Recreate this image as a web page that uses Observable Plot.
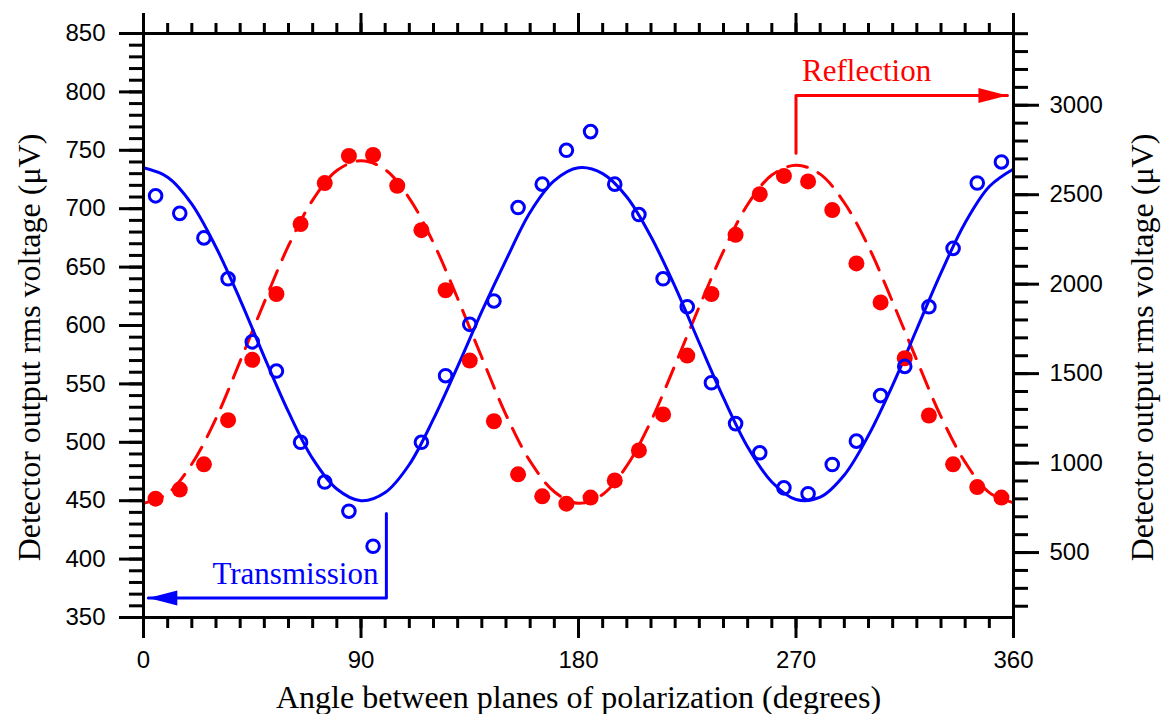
<!DOCTYPE html>
<html><head><meta charset="utf-8">
<script src="https://cdn.jsdelivr.net/npm/d3@7"></script>
<script src="https://cdn.jsdelivr.net/npm/@observablehq/plot@0.6"></script>
<style>body{margin:0;background:#fff}</style>
</head><body><div id="chart"></div>
<script>
// Transmission data (left axis, µV)
const transAngles = [5,15,25,35,45,55,65,75,85,95,115,125,135,145,155,165,175,185,195,205,215,225,235,245,255,265,275,285,295,305,315,325,335,345,355];
const transValues = [711,696,675,640,586,561,500,466,441,411,500,557,601,621,701,721,750,766,721,695,640,616,551,516,491,461,456,481,501,540,565,616,666,722,740];
// Reflection data (right axis, µV)
const reflAngles = [5,15,25,35,45,55,65,75,85,95,105,115,125,135,145,155,165,175,185,195,205,215,225,235,245,255,265,275,285,295,305,315,325,335,345,355];
const reflValues = [801,852,993,1240,1577,1945,2336,2565,2717,2722,2550,2302,1966,1573,1234,937,814,773,807,903,1071,1272,1601,1945,2276,2503,2605,2574,2414,2116,1898,1586,1266,993,866,807];
// Fitted curves
const fitAngles = [0,10,20,30,40,50,60,70,80,90,100,110,120,130,140,150,160,170,180,190,200,210,220,230,240,250,260,270,280,290,300,310,320,330,340,350,360];
const transFit = [735,727,704,667,622,573,526,486,460,450,457,481,520,565,612,656,697,724,735,730,710,676,633,585,538,496,466,451,453,472,506,549,597,645,688,719,734];
const reflFit = [775,830,995,1250,1570,1900,2215,2470,2635,2690,2640,2480,2230,1920,1590,1270,1010,840,775,825,985,1235,1550,1875,2185,2445,2610,2665,2615,2455,2210,1900,1575,1260,1005,835,778];
// Axis ticks
const xMajorTicks = [0,90,180,270,360];
const xMinorTicks = d3.range(0, 361, 10);
const leftMajorTicks = [350,400,450,500,550,600,650,700,750,800,850];
const leftMinorTicks = d3.range(350, 851, 10);
const rightMajorTicks = [500,1000,1500,2000,2500,3000];
const rightMinorTicks = d3.range(200, 3401, 100);
const leftDomain = [350, 850];
const rightDomain = [137, 3401];
// Labels
const xTitle = "Angle between planes of polarization (degrees)";
const yTitle = "Detector output rms voltage (\u03bcV)";
const transLabel = ["Transmission"];
const reflLabel = ["Reflection"];
// Annotation arrows
const transArrowAngles = [100.5, 100.5, 2];
const transArrowValues = [439, 366.8, 366.8];
const transLabelAt = {angle: 97.2, value: 387};
const reflArrowAngles = [270, 270, 357.5];
const reflArrowValues = [2732, 3055, 3055];
const reflLabelAt = {angle: 272.5, value: 3191};

const BLUE = "#0000ff", RED = "#ff0000";
const SERIF = "'Liberation Serif', 'Times New Roman', serif";
const toLeft = r => leftDomain[0] + (r - rightDomain[0]) * (leftDomain[1] - leftDomain[0]) / (rightDomain[1] - rightDomain[0]);
const fromLeft = v => rightDomain[0] + (v - leftDomain[0]) * (rightDomain[1] - rightDomain[0]) / (leftDomain[1] - leftDomain[0]);

const trans = transAngles.map((a, i) => ({a, v: transValues[i]}));
const refl = reflAngles.map((a, i) => ({a, v: toLeft(reflValues[i])}));
const tFit = fitAngles.map((a, i) => ({a, v: transFit[i]}));
const rFit = fitAngles.map((a, i) => ({a, v: toLeft(reflFit[i])}));
const tArrow = transArrowAngles.map((a, i) => ({a, v: transArrowValues[i]}));
const rArrow = reflArrowAngles.map((a, i) => ({a, v: toLeft(reflArrowValues[i])}));
const tLab = transLabel.map(t => ({t, a: transLabelAt.angle, v: transLabelAt.value}));
const rLab = reflLabel.map(t => ({t, a: reflLabelAt.angle, v: toLeft(reflLabelAt.value)}));

const headLeft = {draw(ctx) { ctx.moveTo(0, 0); ctx.lineTo(29, -7.5); ctx.lineTo(29, 7.5); ctx.closePath(); }};
const headRight = {draw(ctx) { ctx.moveTo(0, 0); ctx.lineTo(-29, -7.5); ctx.lineTo(-29, 7.5); ctx.closePath(); }};

const chart = Plot.plot({
  width: 1166, height: 714,
  marginLeft: 143, marginRight: 153, marginTop: 33, marginBottom: 97,
  x: {domain: [0, 360]},
  y: {domain: leftDomain},
  style: {fontFamily: "'Liberation Sans', Arial, sans-serif", fontSize: "24px", color: "black", background: "white"},
  marks: [
    // fits
    Plot.line(rFit, {x: "a", y: "v", stroke: RED, strokeWidth: 3, strokeDasharray: "20,12", curve: "catmull-rom"}),
    Plot.line(tFit, {x: "a", y: "v", stroke: BLUE, strokeWidth: 3, curve: "catmull-rom"}),
    // data
    Plot.dot(refl, {x: "a", y: "v", r: 8, fill: RED, stroke: "none"}),
    Plot.dot(trans, {x: "a", y: "v", r: 6.3, fill: "none", stroke: BLUE, strokeWidth: 3}),
    // annotations
    Plot.line(tArrow, {x: "a", y: "v", stroke: BLUE, strokeWidth: 3}),
    Plot.dot([tArrow[2]], {x: "a", y: "v", symbol: headLeft, fill: BLUE, stroke: "none"}),
    Plot.text(tLab, {x: "a", y: "v", text: "t", fill: BLUE, textAnchor: "end", lineAnchor: "middle", fontFamily: SERIF, fontSize: 31}),
    Plot.line(rArrow, {x: "a", y: "v", stroke: RED, strokeWidth: 3}),
    Plot.dot([rArrow[2]], {x: "a", y: "v", symbol: headRight, fill: RED, stroke: "none"}),
    Plot.text(rLab, {x: "a", y: "v", text: "t", fill: RED, textAnchor: "start", lineAnchor: "middle", fontFamily: SERIF, fontSize: 31}),
    // axes
    Plot.frame({stroke: "black", strokeWidth: 3}),
    Plot.axisX({anchor: "bottom", ticks: xMinorTicks, tickSize: 11, fill: "none", strokeWidth: 3, label: null}),
    Plot.axisX({anchor: "bottom", ticks: xMajorTicks, tickSize: 21, tickPadding: 12, strokeWidth: 3, label: null}),
    Plot.axisX({anchor: "top", ticks: xMinorTicks, tickSize: 11, fill: "none", strokeWidth: 3, label: null}),
    Plot.axisX({anchor: "top", ticks: xMajorTicks, tickSize: 21, fill: "none", strokeWidth: 3, label: null}),
    Plot.axisY({anchor: "left", ticks: leftMinorTicks, tickSize: 14, fill: "none", strokeWidth: 3, label: null}),
    Plot.axisY({anchor: "left", ticks: leftMajorTicks, tickSize: 24, tickPadding: 14, strokeWidth: 3, label: null}),
    Plot.axisY({anchor: "right", ticks: rightMinorTicks.map(toLeft), tickSize: 14, fill: "none", strokeWidth: 3, label: null}),
    Plot.axisY({anchor: "right", ticks: rightMajorTicks.map(toLeft), tickSize: 25, tickPadding: 11, strokeWidth: 3, label: null,
      tickFormat: v => String(Math.round(fromLeft(v) / 100) * 100)}),
    // titles
    Plot.text([xTitle], {frameAnchor: "bottom", textAnchor: "middle", lineAnchor: "middle", dy: 80, text: d => d, fontFamily: SERIF, fontSize: 32}),
    Plot.text([yTitle], {frameAnchor: "left", textAnchor: "middle", lineAnchor: "middle", dx: -114, dy: 22, rotate: -90, text: d => d, fontFamily: SERIF, fontSize: 32}),
    Plot.text([yTitle], {frameAnchor: "right", textAnchor: "middle", lineAnchor: "middle", dx: 129, dy: 22, rotate: -90, text: d => d, fontFamily: SERIF, fontSize: 32})
  ]
});
document.getElementById("chart").appendChild(chart);
</script>
</body></html>
